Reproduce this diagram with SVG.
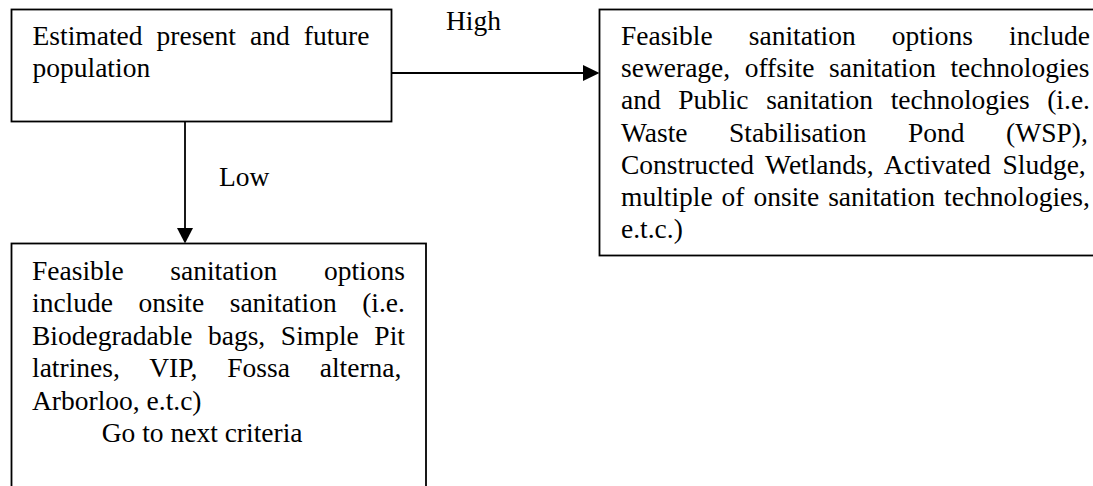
<svg xmlns="http://www.w3.org/2000/svg" width="1093" height="486" viewBox="0 0 1093 486">
  <style>
    .box { fill: #ffffff; stroke: #000000; stroke-width: 1.8; }
    .t { font-family: "Liberation Serif", "Times New Roman", serif; font-size: 27.5px; fill: #000000; }
    .line { stroke: #000000; stroke-width: 1.8; fill: none; }
    .head { fill: #000000; stroke: none; }
  </style>
  <rect width="1093" height="486" fill="#ffffff"/>

  <g id="population">
    <rect class="box" x="11.5" y="9.5" width="380" height="112"/>
    <text class="t" x="32.5" y="45" word-spacing="7.19">Estimated present and future</text>
    <text class="t" x="32.5" y="77">population</text>
  </g>

  <g id="high-options">
    <rect class="box" x="599.5" y="9.5" width="510" height="246"/>
    <text class="t" x="621" y="45" word-spacing="29.27">Feasible sanitation options include</text>
    <text class="t" x="621" y="77.2" word-spacing="7.66">sewerage, offsite sanitation technologies</text>
    <text class="t" x="621" y="109.4" word-spacing="10.70">and Public sanitation technologies (i.e.</text>
    <text class="t" x="621" y="141.6" word-spacing="34.62">Waste Stabilisation Pond (WSP),</text>
    <text class="t" x="621" y="173.8" word-spacing="4.85">Constructed Wetlands, Activated Sludge,</text>
    <text class="t" x="621" y="206" word-spacing="2.09">multiple of onsite sanitation technologies,</text>
    <text class="t" x="621" y="238.2">e.t.c.)</text>
  </g>

  <g id="low-options">
    <rect class="box" x="11.5" y="243.5" width="414.5" height="260"/>
    <text class="t" x="32" y="280" word-spacing="39.8">Feasible sanitation options</text>
    <text class="t" x="32" y="312.4" word-spacing="18.66">include onsite sanitation (i.e.</text>
    <text class="t" x="32" y="344.8" word-spacing="8.73">Biodegradable bags, Simple Pit</text>
    <text class="t" x="32" y="377.2" word-spacing="23.0">latrines, VIP, Fossa alterna,</text>
    <text class="t" x="32" y="409.6">Arborloo, e.t.c)</text>
    <text class="t" x="101.7" y="442">Go to next criteria</text>
  </g>

  <g id="connectors">
    <line class="line" x1="391.5" y1="73" x2="585" y2="73"/>
    <polygon class="head" points="583,65 599.5,73 583,81"/>
    <text class="t" x="446" y="30">High</text>
    <line class="line" x1="185" y1="121.5" x2="185" y2="230"/>
    <polygon class="head" points="177,228 185,243.5 193,228"/>
    <text class="t" x="219" y="186">Low</text>
  </g>
</svg>
